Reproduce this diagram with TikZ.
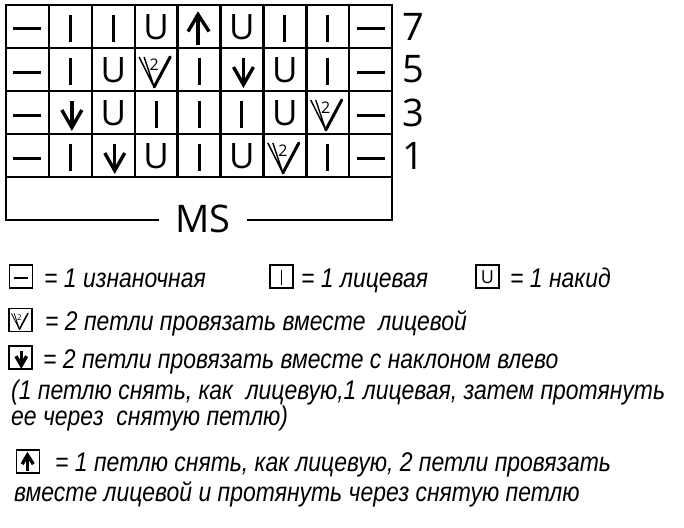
\documentclass[tikz,border=0pt]{standalone}
\usepackage{fontspec}
\newfontfamily\symfont{Open Sans}
\newfontfamily\legfont{Liberation Sans}[FakeStretch=0.85]
\usetikzlibrary{positioning,calc}

\tikzset{
  symline/.style={line width=3pt},
  symthin/.style={line width=1.4pt},
  symtext/.style={inner sep=0pt,font=\symfont\fontsize{35}{35}\selectfont},
  smalltwo/.style={inner sep=0pt,font=\symfont\fontsize{16}{16}\selectfont},
  pics/purl/.style={code={\draw[symline] (-14,2.5) -- (14,2.5);}},
  pics/knit/.style={code={\draw[symline] (0,-11.5) -- (0,15.5);}},
  pics/yo/.style={code={\node[symtext] at (0,1) {U};}},
  pics/up/.style={code={
    \draw[symline,line width=3.4pt] (-1,18.5) -- (-1,-11);
    \draw[symline,line width=3.4pt,line join=miter] (-11,5) -- (-1,-12) -- (10,5);}},
  pics/down/.style={code={
    \draw[symline,line width=3.4pt] (1.5,-11.5) -- (1.5,14);
    \draw[symline,line width=3.4pt,line join=miter] (-8.5,-2.5) -- (1.5,15) -- (11.5,-2.5);}},
  pics/ktog/.style={code={
    \draw[symthin,line join=round] (-17,-12.5) -- (-2,17.5) -- (-12,-12.5);
    \draw[symline,line cap=round] (-2,17.5) -- (14,-12.5);
    \node[smalltwo] at (-2,-5) {2};}},
  legbox/.style={draw,line width=1.2pt,minimum width=23pt,minimum height=23pt,inner sep=0pt},
  legtext/.style={anchor=base west,inner sep=0pt,font=\legfont\itshape\fontsize{27}{32}\selectfont},
}

\begin{document}
\begin{tikzpicture}[x=1pt,y=-1pt,
  gridline/.style={line width=2.4pt},
  rownum/.style={font=\symfont\fontsize{38}{38}\selectfont,inner sep=0pt}]
\useasboundingbox (0,0) rectangle (684,527);
% chart
\coordinate (tl) at (6,5);
\coordinate (tr) at (392,5);
\coordinate (bl) at (6,220);
\coordinate (br) at (392,220);
\node[rownum,inner xsep=16pt] (ms) at (203,218.5) {MS};
\draw[gridline] (ms.west |- bl) -- (bl) -- (tl) -- (tr) -- (br) -- (ms.east |- br);
\foreach \c in {1,...,8} \draw[gridline] ({6+\c*42.9},5) -- ({6+\c*42.9},177);
\foreach \r in {1,...,4} \draw[gridline] (6,{5+\r*43}) -- (392,{5+\r*43});
\foreach \row [count=\r] in {{purl,knit,knit,yo,up,yo,knit,knit,purl},
    {purl,knit,yo,ktog,knit,down,yo,knit,purl},
    {purl,down,yo,knit,knit,knit,yo,ktog,purl},
    {purl,knit,down,yo,knit,yo,ktog,knit,purl}}
  \foreach \s [count=\c] in \row
    \pic at ({6+(\c-0.5)*42.9},{5+(\r-0.5)*43}) {\s};
\foreach \n [count=\r] in {7,5,3,1}
  \node[rownum] (row\n) at (413,{5+(\r-0.5)*43}) {\n};
% legend
\begin{scope}[symline/.style={line width=1.6pt},symthin/.style={line width=0.8pt},
  symtext/.style={inner sep=0pt,font=\symfont\fontsize{18}{18}\selectfont},
  smalltwo/.style={inner sep=0pt,font=\symfont\fontsize{8}{8}\selectfont}]
\node[legbox] (lpurl) at (21,276.5) {};
\pic[scale=0.53] at (lpurl) {purl};
\node[legtext] (tpurl) at (44,287) {= 1 изнаночная};
\node[legbox] (lknit) at (281.5,276.5) {};
\pic[scale=0.53] at (lknit) {knit};
\node[legtext] (tknit) at (301,287) {= 1 лицевая};
\node[legbox] (lyo) at (487.5,276.5) {};
\pic[scale=0.53] at (lyo) {yo};
\node[legtext] (tyo) at (510,287) {= 1 накид};
\node[legbox] (lktog) at (20.5,320) {};
\pic[scale=0.53] at (lktog) {ktog};
\node[legtext] (tktog) at (45,330) {= 2 петли провязать вместе\ \ лицевой};
\node[legbox] (ldown) at (20.5,357.5) {};
\pic[scale=0.53] at (ldown) {down};
\node[legtext] (tdown) at (43,368) {= 2 петли провязать вместе с наклоном влево};
\node[legtext] (tdowna) at (11,399) {(1 петлю снять, как\ \ лицевую,1 лицевая, затем протянуть};
\node[legtext] (tdownb) at (11,425) {ее через\ \ снятую петлю)};
\node[legbox] (lup) at (28,461.5) {};
\pic[scale=0.53] at (lup) {up};
\node[legtext] (tup) at (55,471) {= 1 петлю снять, как лицевую, 2 петли провязать};
\node[legtext] (tupb) at (14,501) {вместе лицевой и протянуть через снятую петлю};
\end{scope}
\end{tikzpicture}
\end{document}
